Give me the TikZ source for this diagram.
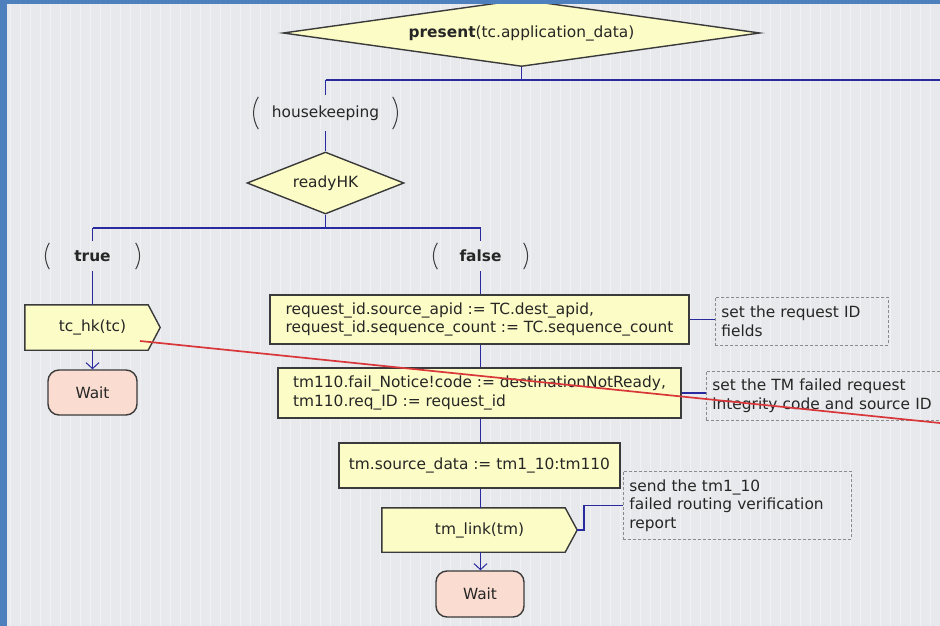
\documentclass[tikz,border=0pt]{standalone}
\usepackage{fontspec}
\setmainfont{DejaVu Sans}
\usetikzlibrary{shapes.geometric,arrows.meta,backgrounds,calc}
\definecolor{bgc}{HTML}{E8E9EC}
\definecolor{gridc}{HTML}{F1F1F3}
\definecolor{deskc}{HTML}{4E80BE}
\definecolor{boxfill}{HTML}{FCFCC6}
\definecolor{waitfill}{HTML}{FADCD0}
\definecolor{edgec}{HTML}{3A3A3A}
\definecolor{flowc}{HTML}{2A2AA0}
\definecolor{notec}{HTML}{8A8A8A}
\definecolor{txt}{HTML}{262626}
\definecolor{redc}{HTML}{D9363A}
\begin{document}
\begin{tikzpicture}[x=1pt,y=-1pt,
  font=\fontsize{15.4}{18.5}\selectfont, text=txt,
  taskbox/.style={draw=edgec, line width=1.4pt, fill=boxfill, rectangle, align=left, inner sep=0pt},
  decision/.style={draw=edgec, line width=1.4pt, fill=boxfill, diamond, inner sep=0pt},
  sigtext/.style={inner sep=0pt},
  sigshape/.style={draw=edgec, line width=1.4pt, fill=boxfill, line join=miter},
  waitbox/.style={draw=edgec, line width=1.4pt, fill=waitfill, rounded corners=11pt, inner sep=0pt},
  answer/.style={inner sep=0pt},
  paren/.style={draw=edgec, line width=1pt},
  note/.style={draw=notec, dashed, dash pattern=on 3pt off 2pt, line width=0.8pt, align=left, inner xsep=6pt, inner ysep=0pt, anchor=north west},
  flow/.style={draw=flowc, line width=1.5pt},
  flowarrow/.style={flow, -{Straight Barb[length=6pt,width=13pt,line width=1pt]}},
  redline/.style={draw=redc, line width=1.7pt}
]
\useasboundingbox (0,0) rectangle (940,626);
\clip (0,0) rectangle (940,626);
% background with grid
\begin{scope}[on background layer]
  \fill[bgc] (0,0) rectangle (940,626);
  \draw[gridc, line width=0.5pt, step=10] (0,0) grid (940,626);
\end{scope}

% nodes
\node[decision, aspect=7, minimum width=477pt, minimum height=67pt] (present) at (521.5,33) {\textbf{present}(tc.application\_data)};
\node[answer, minimum width=134pt, minimum height=36pt] (hk) at (325.5,113) {housekeeping};
\node[decision, aspect=2.5, minimum width=157pt, minimum height=62pt] (ready) at (325.5,183) {readyHK};
\node[answer, minimum width=86pt, minimum height=30pt] (true) at (92.5,256) {\textbf{true}};
\node[answer, minimum width=86pt, minimum height=30pt] (false) at (480.5,256) {\textbf{false}};
\node[sigtext, minimum width=135pt, minimum height=45pt] (o1) at (92.5,327.5) {tc\_hk(tc)};
\node[waitbox, minimum width=89pt, minimum height=45pt] (wait1) at (92.5,392.5) {Wait};
\node[taskbox, minimum width=419pt, minimum height=49pt] (t1) at (479.5,319.5) {request\_id.source\_apid := TC.dest\_apid,\\request\_id.sequence\_count := TC.sequence\_count};
\node[taskbox, minimum width=403pt, minimum height=50pt] (t2) at (479.5,393) {tm110.fail\_Notice!code := destinationNotReady,\\tm110.req\_ID := request\_id};
\node[taskbox, align=center, minimum width=281pt, minimum height=45pt] (t3) at (479.5,465.5) {tm.source\_data := tm1\_10:tm110};
\node[sigtext, minimum width=195pt, minimum height=44pt] (o2) at (479.5,530) {tm\_link(tm)};
\node[waitbox, minimum width=88pt, minimum height=46pt] (wait2) at (480,594) {Wait};
\node[note, text width=161pt, minimum height=48pt] (n1) at (715,297) {set the request ID\\fields};
\node[note, text width=238pt, minimum height=49pt] (n2) at (706,371) {set the TM failed request\\integrity code and source ID};
\node[note, text width=216pt, minimum height=68pt] (n3) at (623,471) {send the tm1\_10\\failed routing verification\\report};

% output (signal) shapes behind their texts
\begin{scope}[on background layer]
  \path[sigshape] (o1.north west) -- ([xshift=-12pt]o1.north east) -- (o1.east) -- ([xshift=-12pt]o1.south east) -- (o1.south west) -- cycle;
  \path[sigshape] (o2.north west) -- ([xshift=-12pt]o2.north east) -- (o2.east) -- ([xshift=-12pt]o2.south east) -- (o2.south west) -- cycle;
\end{scope}

% parentheses of the answers
\foreach \a in {hk,true,false}{
  \draw[paren] ([yshift=-2pt]\a.north west) to[bend right=30] ([yshift=2pt]\a.south west);
  \draw[paren] ([yshift=-2pt]\a.north east) to[bend left=30] ([yshift=2pt]\a.south east);
}

% junctions
\coordinate (jA) at (521.5,80);
\coordinate (jAl) at (325.5,80);
\coordinate (jAr) at (940,80);
\coordinate (jB) at (325.5,228);
\coordinate (jBl) at (92.5,228);
\coordinate (jBr) at (480.5,228);

% flow lines
\draw[flow] (present.south) -- (jA);
\draw[flow] (jAl) -- (jAr);
\draw[flow] (jAl) -- (hk.north);
\draw[flow] (hk.south) -- (ready.north);
\draw[flow] (ready.south) -- (jB);
\draw[flow] (jBl) -- (jBr);
\draw[flow] (jBl) -- (true.north);
\draw[flow] (true.south) -- (o1.north);
\draw[flowarrow] (o1.south) -- (wait1.north);
\draw[flow] (jBr) -- (false.north);
\draw[flow] (false.south) -- (false.south |- t1.north);
\draw[flow] (t1.south -| false.south) -- (false.south |- t2.north);
\draw[flow] (t2.south -| false.south) -- (false.south |- t3.north);
\draw[flow] (t3.south -| false.south) -- (false.south |- o2.north);
\draw[flowarrow] (o2.south -| false.south) -- (false.south |- wait2.north);

% comment connectors
\draw[flow] (t1.east) -- (t1.east -| n1.west);
\draw[flow] (t2.east) -- (t2.east -| n2.west);
\draw[flow] (o2.east) -- ++(7,0) |- (n3.west);

% red stroke across the picture
\coordinate (rA) at (140,341);
\coordinate (rB) at (940,423);
\draw[redline] (rA) -- (rB);

% desktop edges
\fill[deskc] (0,0) rectangle (940,4.5);
\fill[deskc] (0,0) rectangle (7,626);
\end{tikzpicture}
\end{document}
